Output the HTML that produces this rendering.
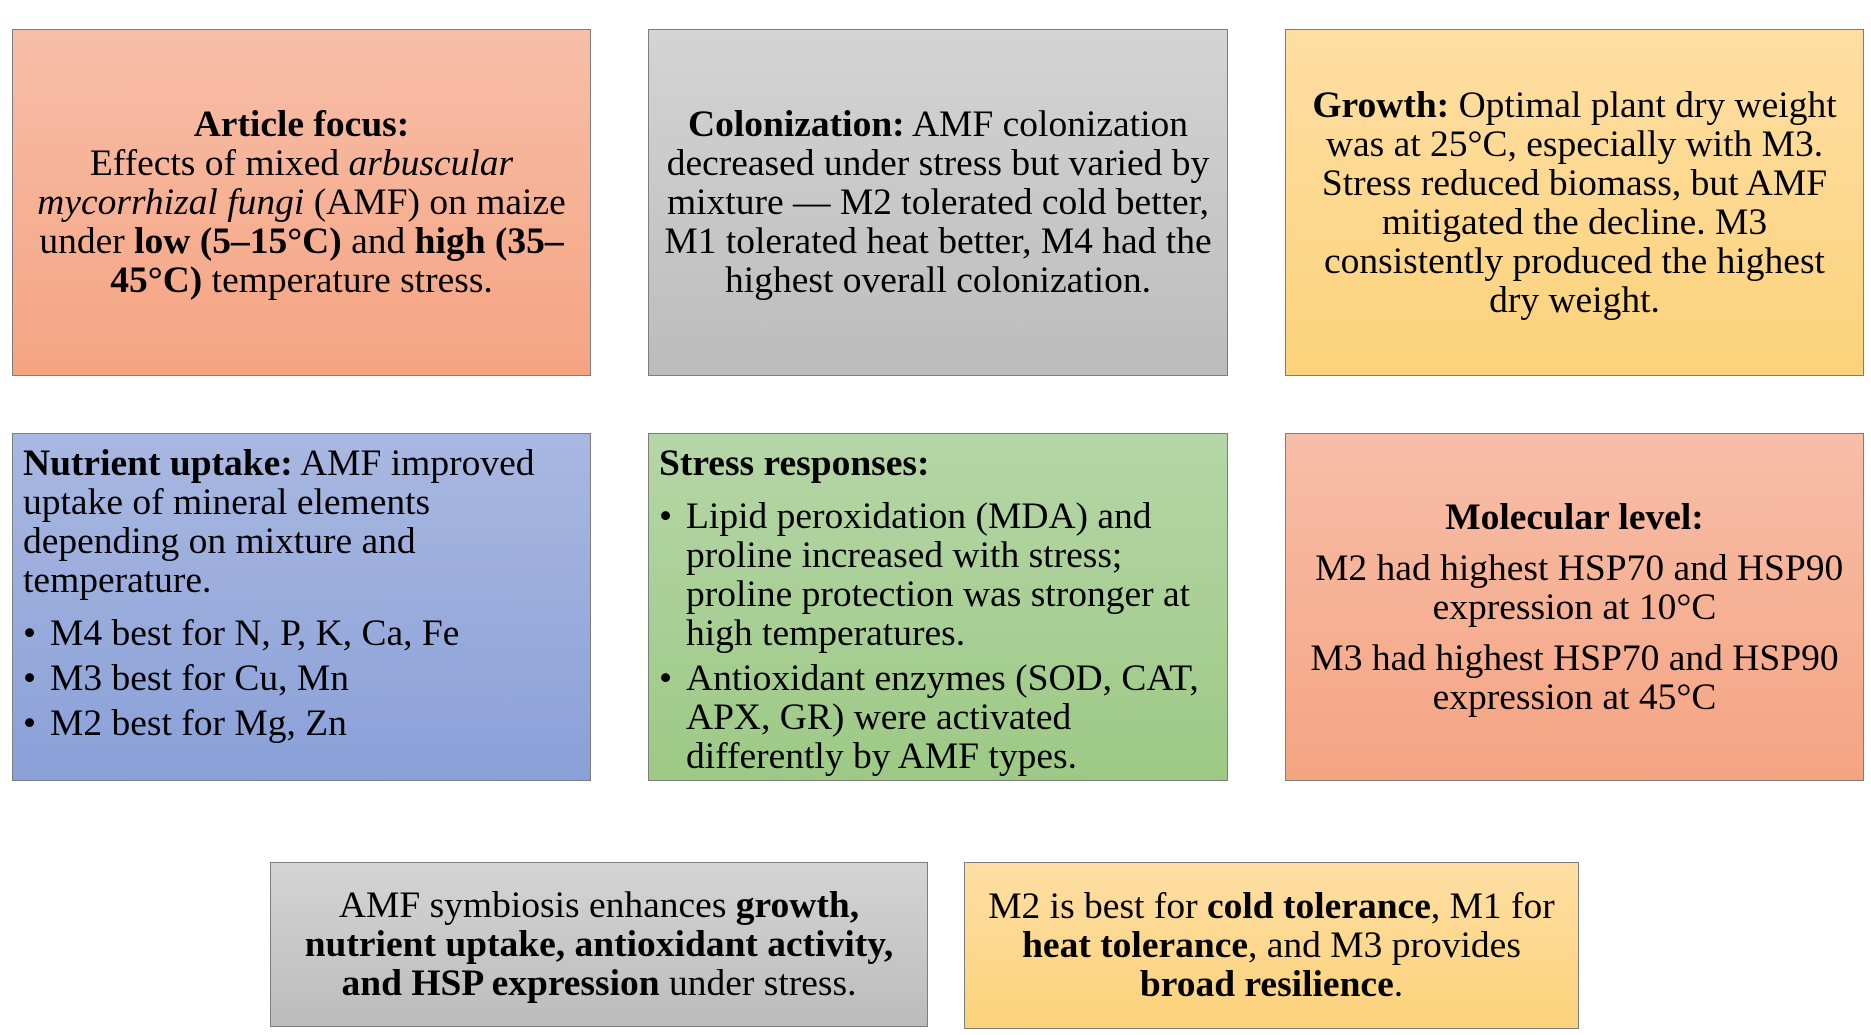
<!DOCTYPE html>
<html><head><meta charset="utf-8"><style>
html,body{margin:0;padding:0;background:#fff;width:1871px;height:1035px;overflow:hidden}
.b{position:absolute;box-sizing:border-box;border:1.5px solid #7d7d7d;font-family:"Liberation Serif","Times New Roman",serif;font-size:37.5px;line-height:39px;color:#000;display:flex;flex-direction:column;justify-content:center;text-align:center;white-space:nowrap}
.sal{background:linear-gradient(#f7bea8,#f5a482)}
.gr{background:linear-gradient(#d4d4d4,#bcbcbc)}
.ye{background:linear-gradient(#fedea3,#fcd27b)}
.bl{background:linear-gradient(#a9b8e1,#8aa0d8)}
.gn{background:linear-gradient(#b5d6a7,#9dc985)}
.l{text-align:left;justify-content:flex-start;padding:10px 0 0 10px}
.li{position:relative;padding-left:27px;margin-top:6px}
.li:before{content:"•";position:absolute;left:0;top:0}
p{margin:0}
</style></head><body>
<div class="b sal" style="left:12px;top:29px;width:579px;height:347px"><div><b>Article focus:</b><br>Effects of mixed <i>arbuscular<br>mycorrhizal fungi</i> (AMF) on maize<br>under <b>low (5–15°C)</b> and <b>high (35–<br>45°C)</b> temperature stress.</div></div>
<div class="b gr" style="left:648px;top:29px;width:580px;height:347px"><div><b>Colonization:</b> AMF colonization<br>decreased under stress but varied by<br>mixture — M2 tolerated cold better,<br>M1 tolerated heat better, M4 had the<br>highest overall colonization.</div></div>
<div class="b ye" style="left:1285px;top:29px;width:579px;height:347px"><div><b>Growth:</b> Optimal plant dry weight<br>was at 25°C, especially with M3.<br>Stress reduced biomass, but AMF<br>mitigated the decline. M3<br>consistently produced the highest<br>dry weight.</div></div>

<div class="b bl l" style="left:12px;top:433px;width:579px;height:348px"><p><b>Nutrient uptake:</b> AMF improved<br>uptake of mineral elements<br>depending on mixture and<br>temperature.</p><p class="li" style="margin-top:14px">M4 best for N, P, K, Ca, Fe</p><p class="li">M3 best for Cu, Mn</p><p class="li">M2 best for Mg, Zn</p></div>
<div class="b gn l" style="left:648px;top:433px;width:580px;height:348px"><p><b>Stress responses:</b></p><p class="li" style="margin-top:14px">Lipid peroxidation (MDA) and<br>proline increased with stress;<br>proline protection was stronger at<br>high temperatures.</p><p class="li">Antioxidant enzymes (SOD, CAT,<br>APX, GR) were activated<br>differently by AMF types.</p></div>
<div class="b sal" style="left:1285px;top:433px;width:579px;height:348px"><p><b>Molecular level:</b></p><p style="margin-top:12px">&nbsp;M2 had highest HSP70 and HSP90<br>expression at 10°C</p><p style="margin-top:12px">M3 had highest HSP70 and HSP90<br>expression at 45°C</p></div>

<div class="b gr" style="left:270px;top:862px;width:658px;height:165px"><div>AMF symbiosis enhances <b>growth,<br>nutrient uptake, antioxidant activity,<br>and HSP expression</b> under stress.</div></div>
<div class="b ye" style="left:964px;top:862px;width:615px;height:167px"><div>M2 is best for <b>cold tolerance</b>, M1 for<br><b>heat tolerance</b>, and M3 provides<br><b>broad resilience</b>.</div></div>
</body></html>
